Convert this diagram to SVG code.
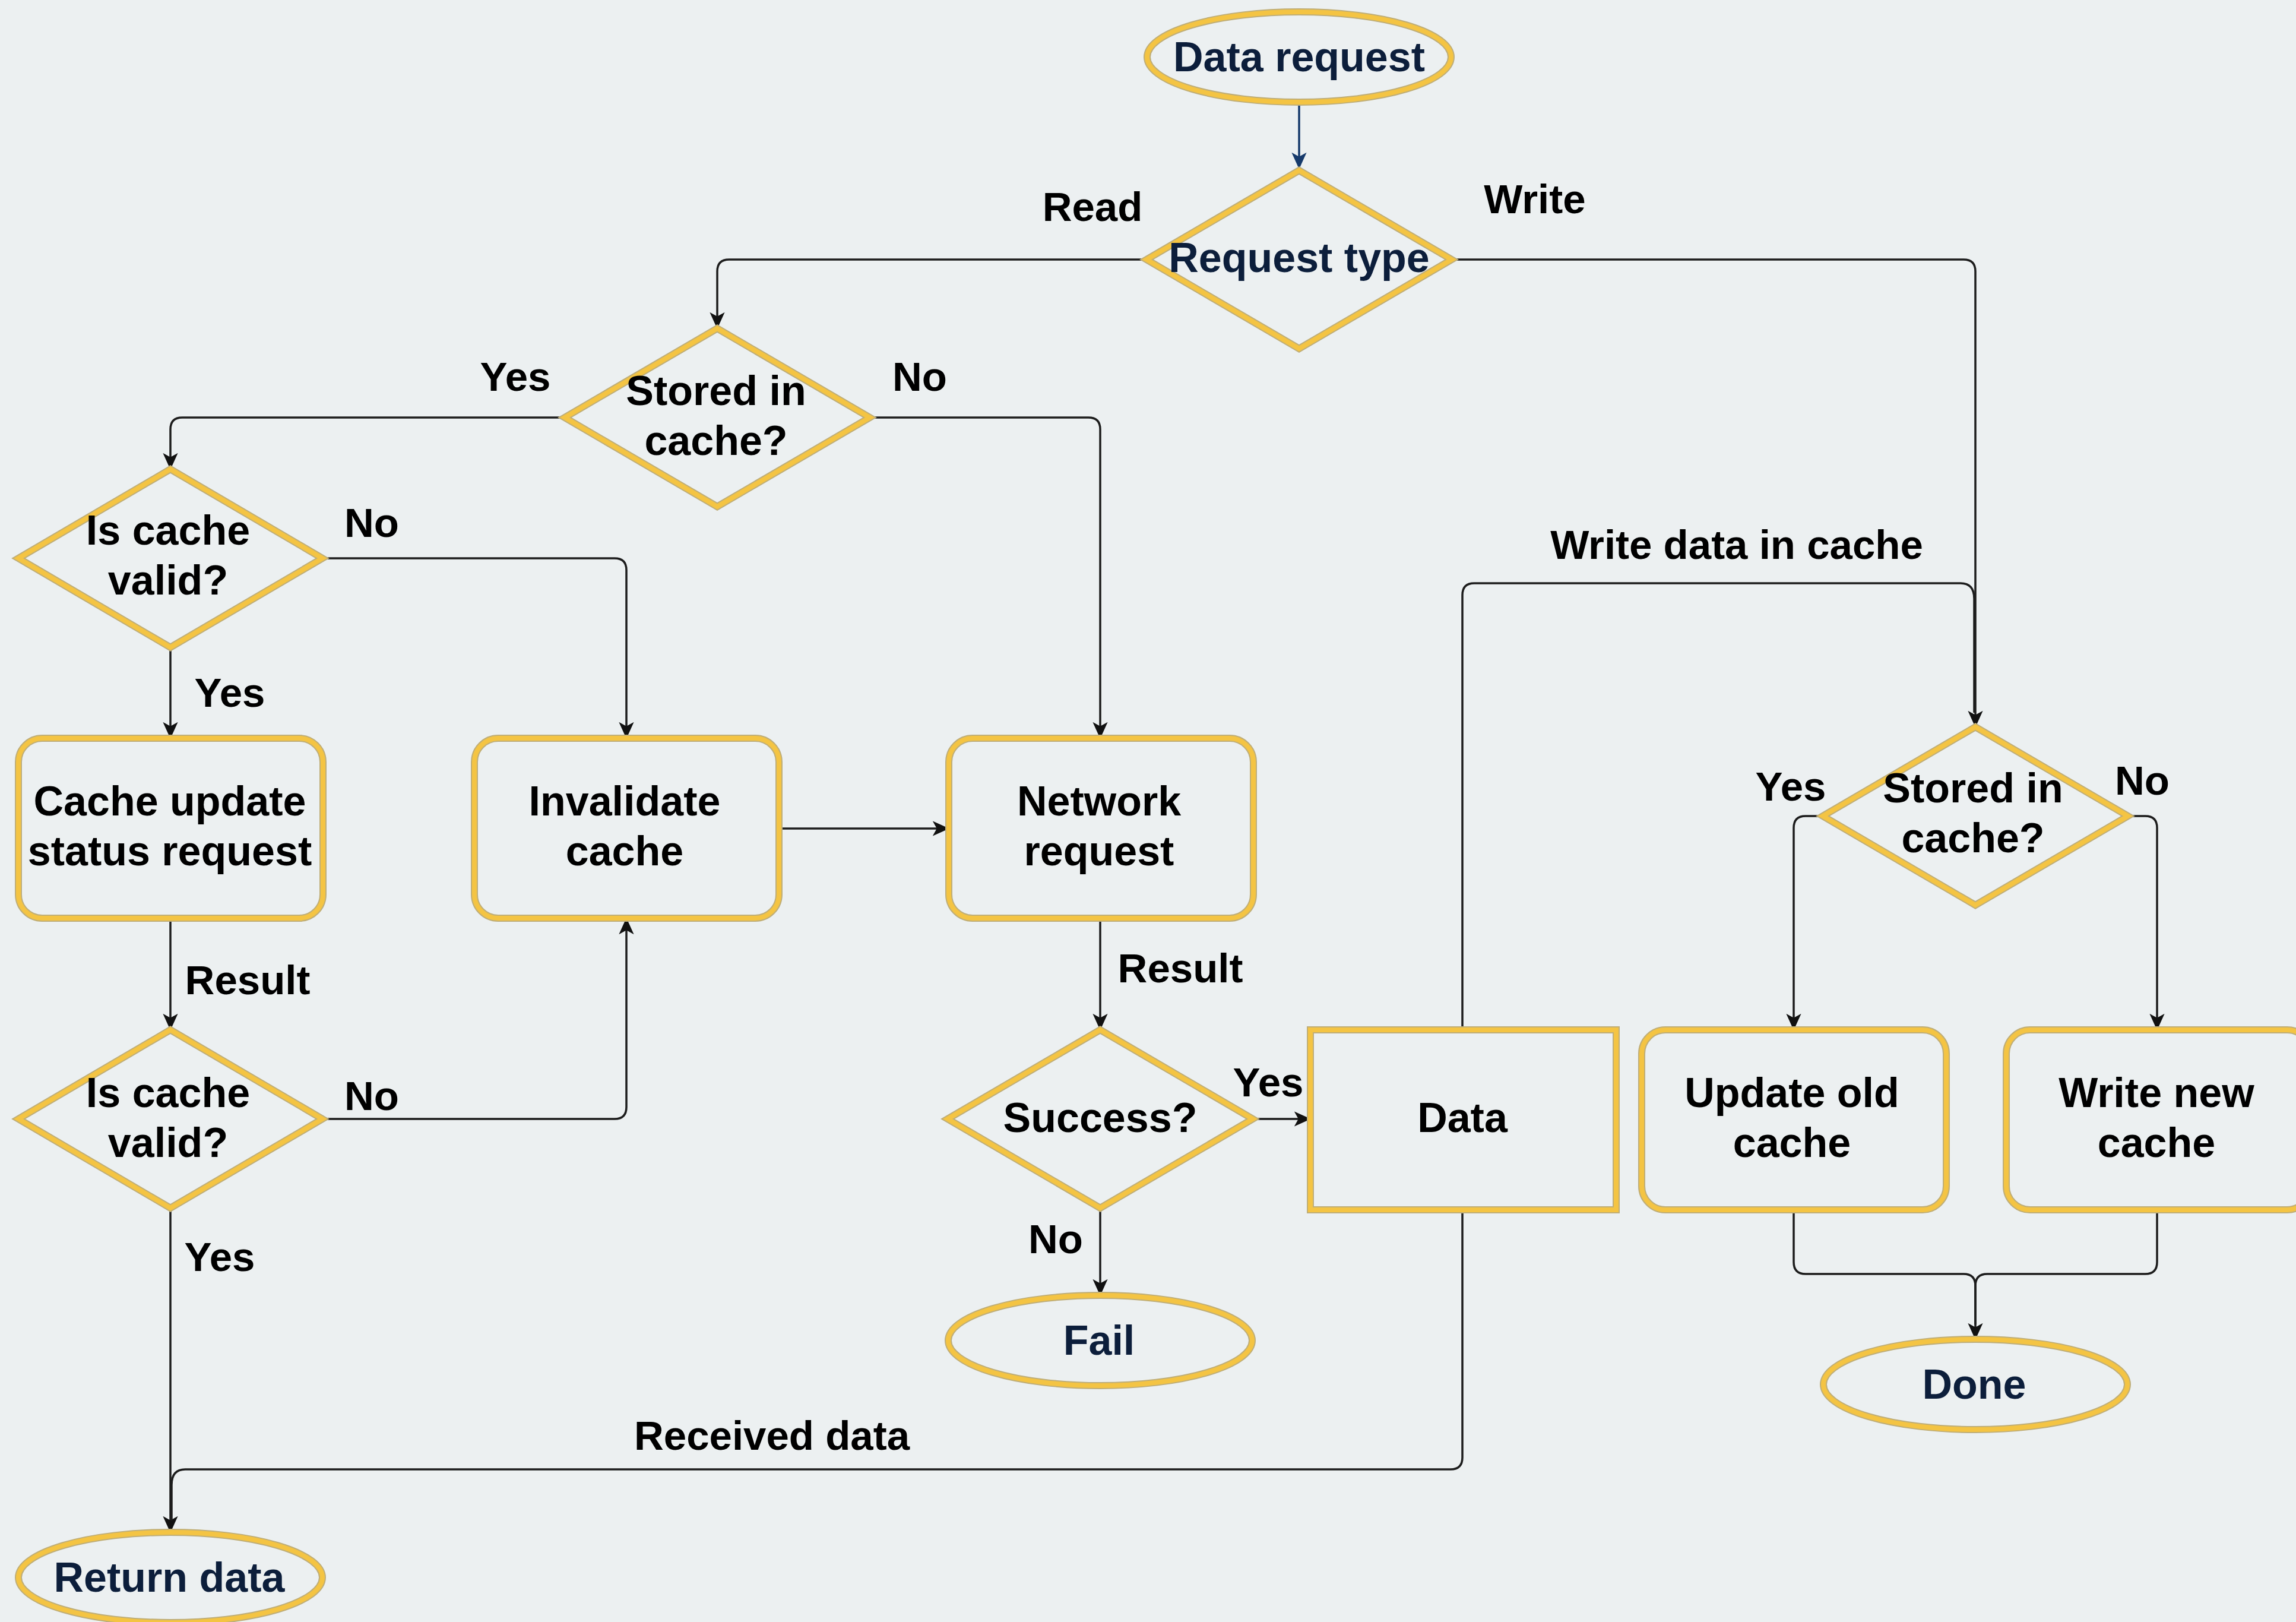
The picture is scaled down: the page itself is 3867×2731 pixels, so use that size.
<svg xmlns="http://www.w3.org/2000/svg" width="3867" height="2731" viewBox="0 0 3867 2731">
  <defs>
    <marker id="arr" viewBox="0 0 20 20" refX="18" refY="10" markerWidth="28" markerHeight="28" markerUnits="userSpaceOnUse" orient="auto">
      <path d="M0,1 L20,10 L0,19 L5,10 z" fill="#111"/>
    </marker>
    <marker id="arrNavy" viewBox="0 0 20 20" refX="18" refY="10" markerWidth="28" markerHeight="28" markerUnits="userSpaceOnUse" orient="auto">
      <path d="M0,1 L20,10 L0,19 L5,10 z" fill="#163a6b"/>
    </marker>
    <style>
      .rim { fill: #ecf0f1; stroke: #bfae78; stroke-width: 12; }
      .shape { fill: none; stroke: #f4c443; stroke-width: 8; }
      .edge { fill: none; stroke: #1c1c1c; stroke-width: 3.5; }
      .navy { stroke: #163a6b; }
      .t { font-family: "Liberation Sans", Arial, Helvetica, sans-serif; font-weight: bold; font-size: 70px; text-anchor: middle; fill: #000; }
      .term { fill: #0c1e3b; }
      .lbl { font-family: "Liberation Sans", Arial, Helvetica, sans-serif; font-weight: bold; font-size: 69px; text-anchor: middle; fill: #000; }
    </style>
  </defs>

  <rect x="0" y="0" width="3867" height="2731" fill="#ecf0f1"/>

  <!-- connectors -->
  <g id="connectors">
    <path class="edge navy" d="M2188,172 V282" marker-end="url(#arrNavy)"/>
    <path class="edge" d="M1931,437 H1228 Q1208,437 1208,457 V551" marker-end="url(#arr)"/>
    <path class="edge" d="M2445,437 H3307 Q3327,437 3327,457 V1222" marker-end="url(#arr)"/>
    <path class="edge" d="M2463,1734 V1002 Q2463,982 2483,982 H3302 Q3325,982 3325,1008 V1200"/>
    <path class="edge" d="M951,703 H307 Q287,703 287,723 V788" marker-end="url(#arr)"/>
    <path class="edge" d="M1465,703 H1833 Q1853,703 1853,723 V1241" marker-end="url(#arr)"/>
    <path class="edge" d="M543,940 H1035 Q1055,940 1055,960 V1241" marker-end="url(#arr)"/>
    <path class="edge" d="M287,1090 V1241" marker-end="url(#arr)"/>
    <path class="edge" d="M1312,1395 H1596" marker-end="url(#arr)"/>
    <path class="edge" d="M287,1546 V1732" marker-end="url(#arr)"/>
    <path class="edge" d="M543,1884 H1035 Q1055,1884 1055,1864 V1548" marker-end="url(#arr)"/>
    <path class="edge" d="M287,2034 V2578" marker-end="url(#arr)"/>
    <path class="edge" d="M2463,2037 V2454 Q2463,2474 2443,2474 H312 Q289,2474 289,2500 V2560"/>
    <path class="edge" d="M1853,1546 V1732" marker-end="url(#arr)"/>
    <path class="edge" d="M2110,1884 H2205" marker-end="url(#arr)"/>
    <path class="edge" d="M1853,2034 V2179" marker-end="url(#arr)"/>
    <path class="edge" d="M3070,1374 H3041 Q3021,1374 3021,1394 V1732" marker-end="url(#arr)"/>
    <path class="edge" d="M3584,1374 H3613 Q3633,1374 3633,1394 V1732" marker-end="url(#arr)"/>
    <path class="edge" d="M3021,2037 V2125 Q3021,2145 3041,2145 H3307 Q3327,2145 3327,2165 V2253" marker-end="url(#arr)"/>
    <path class="edge" d="M3633,2037 V2125 Q3633,2145 3613,2145 H3347 Q3327,2145 3327,2165 V2230"/>

    <text class="lbl" x="1840" y="372">Read</text>
    <text class="lbl" x="2585" y="359">Write</text>
    <text class="lbl" x="868" y="658">Yes</text>
    <text class="lbl" x="1549" y="658">No</text>
    <text class="lbl" x="626" y="904">No</text>
    <text class="lbl" x="387" y="1190">Yes</text>
    <text class="lbl" x="417" y="1674">Result</text>
    <text class="lbl" x="626" y="1869">No</text>
    <text class="lbl" x="370" y="2140">Yes</text>
    <text class="lbl" x="1988" y="1654">Result</text>
    <text class="lbl" x="2136" y="1846">Yes</text>
    <text class="lbl" x="1778" y="2110">No</text>
    <text class="lbl" x="2925" y="941">Write data in cache</text>
    <text class="lbl" x="1300" y="2441">Received data</text>
    <text class="lbl" x="3016" y="1348">Yes</text>
    <text class="lbl" x="3608" y="1338">No</text>
  </g>

  <!-- nodes: each outline is a darker rim under a yellow stroke -->
  <g id="data-request">
    <ellipse class="rim" cx="2188" cy="96" rx="256" ry="76"/>
    <ellipse class="shape" cx="2188" cy="96" rx="256" ry="76"/>
    <text class="t term" x="2188" y="120">Data request</text>
  </g>
  <g id="request-type">
    <polygon class="rim" points="2188,287 2445,437 2188,587 1931,437"/>
    <polygon class="shape" points="2188,287 2445,437 2188,587 1931,437"/>
    <text class="t term" x="2188" y="458">Request type</text>
  </g>
  <g id="stored-read">
    <polygon class="rim" points="1208,553 1465,703 1208,853 951,703"/>
    <polygon class="shape" points="1208,553 1465,703 1208,853 951,703"/>
    <text class="t" x="1206" y="682">Stored in</text>
    <text class="t" x="1206" y="766">cache?</text>
  </g>
  <g id="cache-valid-1">
    <polygon class="rim" points="287,790 543,940 287,1090 31,940"/>
    <polygon class="shape" points="287,790 543,940 287,1090 31,940"/>
    <text class="t" x="283" y="917">Is cache</text>
    <text class="t" x="283" y="1001">valid?</text>
  </g>
  <g id="cache-update">
    <rect class="rim" x="31" y="1243" width="513" height="303" rx="40"/>
    <rect class="shape" x="31" y="1243" width="513" height="303" rx="40"/>
    <text class="t" x="286" y="1373">Cache update</text>
    <text class="t" x="286" y="1457">status request</text>
  </g>
  <g id="invalidate">
    <rect class="rim" x="799" y="1243" width="513" height="303" rx="40"/>
    <rect class="shape" x="799" y="1243" width="513" height="303" rx="40"/>
    <text class="t" x="1052" y="1373">Invalidate</text>
    <text class="t" x="1052" y="1457">cache</text>
  </g>
  <g id="network-request">
    <rect class="rim" x="1598" y="1243" width="513" height="303" rx="40"/>
    <rect class="shape" x="1598" y="1243" width="513" height="303" rx="40"/>
    <text class="t" x="1851" y="1373">Network</text>
    <text class="t" x="1851" y="1457">request</text>
  </g>
  <g id="cache-valid-2">
    <polygon class="rim" points="287,1734 543,1884 287,2034 31,1884"/>
    <polygon class="shape" points="287,1734 543,1884 287,2034 31,1884"/>
    <text class="t" x="283" y="1864">Is cache</text>
    <text class="t" x="283" y="1948">valid?</text>
  </g>
  <g id="success">
    <polygon class="rim" points="1853,1734 2110,1884 1853,2034 1596,1884"/>
    <polygon class="shape" points="1853,1734 2110,1884 1853,2034 1596,1884"/>
    <text class="t" x="1853" y="1906">Success?</text>
  </g>
  <g id="data">
    <rect class="rim" x="2207" y="1734" width="515" height="303"/>
    <rect class="shape" x="2207" y="1734" width="515" height="303"/>
    <text class="t" x="2463" y="1906">Data</text>
  </g>
  <g id="stored-write">
    <polygon class="rim" points="3327,1224 3584,1374 3327,1524 3070,1374"/>
    <polygon class="shape" points="3327,1224 3584,1374 3327,1524 3070,1374"/>
    <text class="t" x="3323" y="1351">Stored in</text>
    <text class="t" x="3323" y="1435">cache?</text>
  </g>
  <g id="update-old">
    <rect class="rim" x="2765" y="1734" width="513" height="303" rx="40"/>
    <rect class="shape" x="2765" y="1734" width="513" height="303" rx="40"/>
    <text class="t" x="3018" y="1864">Update old</text>
    <text class="t" x="3018" y="1948">cache</text>
  </g>
  <g id="write-new">
    <rect class="rim" x="3379" y="1734" width="513" height="303" rx="40"/>
    <rect class="shape" x="3379" y="1734" width="513" height="303" rx="40"/>
    <text class="t" x="3632" y="1864">Write new</text>
    <text class="t" x="3632" y="1948">cache</text>
  </g>
  <g id="fail">
    <ellipse class="rim" cx="1853" cy="2257" rx="256" ry="76"/>
    <ellipse class="shape" cx="1853" cy="2257" rx="256" ry="76"/>
    <text class="t term" x="1851" y="2281">Fail</text>
  </g>
  <g id="done">
    <ellipse class="rim" cx="3327" cy="2331" rx="256" ry="76"/>
    <ellipse class="shape" cx="3327" cy="2331" rx="256" ry="76"/>
    <text class="t term" x="3325" y="2355">Done</text>
  </g>
  <g id="return-data">
    <ellipse class="rim" cx="287" cy="2656" rx="256" ry="76"/>
    <ellipse class="shape" cx="287" cy="2656" rx="256" ry="76"/>
    <text class="t term" x="285" y="2680">Return data</text>
  </g>
</svg>
